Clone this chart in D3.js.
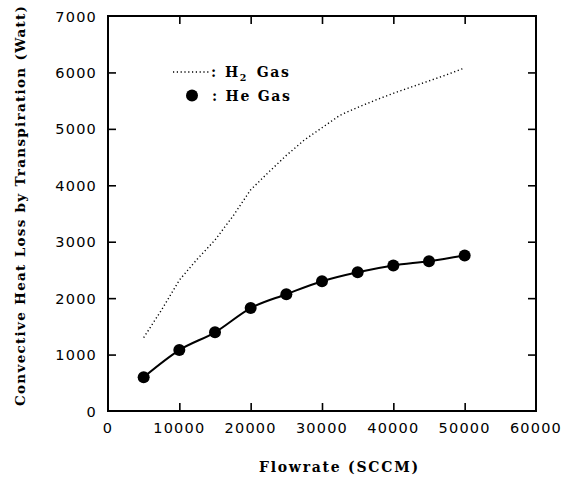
<!DOCTYPE html>
<html><head><meta charset="utf-8">
<script src="https://cdn.jsdelivr.net/npm/d3@7"></script>
<style>body{margin:0;background:#fff}svg{display:block}</style>
</head><body>
<script>
const xTicks = [0, 10000, 20000, 30000, 40000, 50000, 60000];
const yTicks = [0, 1000, 2000, 3000, 4000, 5000, 6000, 7000];
const heFlow = [5000, 10000, 15000, 20000, 25000, 30000, 35000, 40000, 45000, 50000];
const heLoss = [600, 1080, 1395, 1825, 2070, 2300, 2460, 2580, 2655, 2755];
const h2Flow = [5000, 7500, 10000, 12500, 15000, 17500, 20000, 22500, 25000, 27500, 30000, 32500, 35000, 37500, 40000, 42500, 45000, 47500, 50000];
const h2Loss = [1300, 1790, 2320, 2690, 3030, 3450, 3920, 4230, 4530, 4800, 5020, 5240, 5380, 5510, 5630, 5740, 5850, 5960, 6080];

const W = 573, H = 482;
const svg = d3.select("body").append("svg").attr("width", W).attr("height", H);
const x = d3.scaleLinear().domain([0, 60000]).range([108, 536]);
const y = d3.scaleLinear().domain([0, 7000]).range([411, 16]);
const tickFont = "'DejaVu Sans', sans-serif";
const titleFont = "'DejaVu Serif', 'Liberation Serif', serif";

// frame
svg.append("rect").attr("x", x(0)).attr("y", y(7000)).attr("width", x(60000) - x(0)).attr("height", y(0) - y(7000))
  .attr("fill", "none").attr("stroke", "#000").attr("stroke-width", 2);

const tl = 8;
const xInner = xTicks.filter(d => d > 0 && d < 60000);
const yInner = yTicks.filter(d => d > 0 && d < 7000);
const axBottom = d3.axisBottom(x).tickValues(xInner).tickSizeInner(-tl).tickSizeOuter(0).tickFormat("");
const axTop = d3.axisTop(x).tickValues(xInner).tickSizeInner(-tl).tickSizeOuter(0).tickFormat("");
const axLeft = d3.axisLeft(y).tickValues(yInner).tickSizeInner(-tl).tickSizeOuter(0).tickFormat("");
const axRight = d3.axisRight(y).tickValues(yInner).tickSizeInner(-tl).tickSizeOuter(0).tickFormat("");
[[axBottom, `translate(0,${y(0)})`], [axTop, `translate(0,${y(7000)})`], [axLeft, `translate(${x(0)},0)`], [axRight, `translate(${x(60000)},0)`]]
  .forEach(([ax, tr]) => {
    const g = svg.append("g").attr("transform", tr).call(ax);
    g.select(".domain").remove();
    g.selectAll("line").attr("stroke", "#000").attr("stroke-width", 1.6);
  });

// tick labels
svg.append("g").selectAll("text").data(xTicks).join("text")
  .attr("x", d => x(d)).attr("y", 433).attr("text-anchor", "middle")
  .attr("font-family", tickFont).attr("font-size", 14.5).attr("letter-spacing", 1.2)
  .text(d => d);
svg.append("g").selectAll("text").data(yTicks).join("text")
  .attr("x", 97).attr("y", d => y(d) + 5.5).attr("text-anchor", "end")
  .attr("font-family", tickFont).attr("font-size", 14.5).attr("letter-spacing", 1.2)
  .text(d => d);

// axis titles
svg.append("text").attr("x", 259).attr("y", 472)
  .attr("font-family", titleFont).attr("font-weight", "bold").attr("font-size", 14)
  .attr("textLength", 159).attr("lengthAdjust", "spacing")
  .text("Flowrate (SCCM)");
svg.append("text").attr("transform", "translate(25,406) rotate(-90)")
  .attr("font-family", titleFont).attr("font-weight", "bold").attr("font-size", 13.5)
  .attr("textLength", 400).attr("lengthAdjust", "spacing")
  .text("Convective Heat Loss by Transpiration (Watt)");

// H2 dotted line
const line = d3.line().x(d => x(d[0])).y(d => y(d[1]));
svg.append("path").datum(h2Flow.map((f, i) => [f, h2Loss[i]]))
  .attr("d", line).attr("fill", "none").attr("stroke", "#000")
  .attr("stroke-width", 1.4).attr("stroke-dasharray", "1.2,2.6");

// He line + markers
const heData = heFlow.map((f, i) => [f, heLoss[i]]);
svg.append("path").datum(heData).attr("d", d3.line().x(d => x(d[0])).y(d => y(d[1])).curve(d3.curveMonotoneX))
  .attr("fill", "none").attr("stroke", "#000").attr("stroke-width", 2);
svg.append("g").selectAll("circle").data(heData).join("circle")
  .attr("cx", d => x(d[0])).attr("cy", d => y(d[1])).attr("r", 6).attr("fill", "#000");

// legend
svg.append("line").attr("x1", 173).attr("x2", 211).attr("y1", 72).attr("y2", 72)
  .attr("stroke", "#000").attr("stroke-width", 1.4).attr("stroke-dasharray", "1.2,2.6");
svg.append("text").attr("x", 211).attr("y", 77)
  .attr("font-family", titleFont).attr("font-weight", "bold").attr("font-size", 14).text(":");
const lg = svg.append("text").attr("x", 225).attr("y", 77)
  .attr("font-family", titleFont).attr("font-weight", "bold").attr("font-size", 14)
  .attr("letter-spacing", 1.5);
lg.append("tspan").text("H");
lg.append("tspan").attr("font-size", 9.5).attr("dy", 4).text("2");
lg.append("tspan").attr("dy", -4).attr("dx", 9).text("Gas");
svg.append("circle").attr("cx", 192).attr("cy", 95.5).attr("r", 6).attr("fill", "#000");
svg.append("text").attr("x", 212).attr("y", 101)
  .attr("font-family", titleFont).attr("font-weight", "bold").attr("font-size", 14)
  .attr("textLength", 78).attr("lengthAdjust", "spacing")
  .text(": He Gas");
</script>
</body></html>
